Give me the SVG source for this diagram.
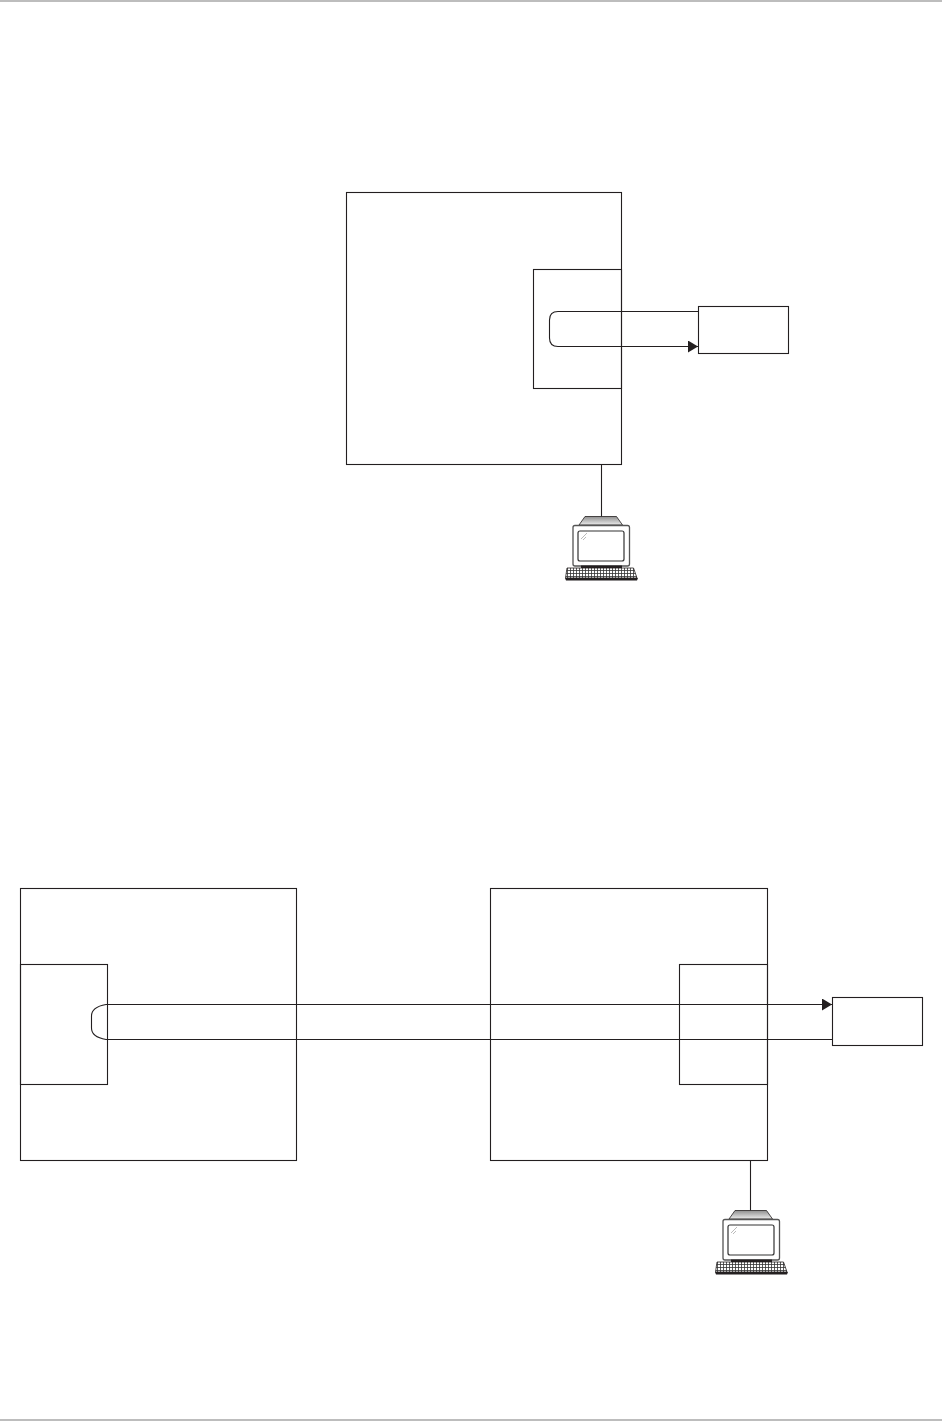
<svg xmlns="http://www.w3.org/2000/svg" width="942" height="1421" viewBox="0 0 942 1421">
<style>
.b{fill:none;stroke:#231f20;stroke-width:1.1}
.w{fill:#fff;stroke:#231f20;stroke-width:1.1}
.c{fill:none;stroke:#231f20;stroke-width:1.1}
.g{fill:#bdbdbd}
</style>
<defs>
<linearGradient id="hood" x1="0" y1="0" x2="0" y2="1"><stop offset="0" stop-color="#8f8f8f"/><stop offset="1" stop-color="#ececec"/></linearGradient>
<pattern id="keys" width="3" height="3" patternUnits="userSpaceOnUse"><rect width="3" height="3" fill="#fff"/><path d="M0 .5H3M.5 0V3" stroke="#333" stroke-width=".8" fill="none"/></pattern>
<marker id="arrow" markerUnits="userSpaceOnUse" markerWidth="11" markerHeight="12" refX="10" refY="6" orient="auto"><path d="M0 0L10 6L0 12Z" fill="#231f20"/></marker>
<symbol id="pc" overflow="visible">
<path d="M585 516.5H616.500L622.500 525H579Z" fill="url(#hood)" stroke="#231f20" stroke-width=".8"/>
<rect x="573" y="525.500" width="56.500" height="40.500" rx="2" fill="#fff" stroke="#555" stroke-width="1.300"/>
<rect x="578" y="531" width="46" height="30" rx="2" fill="#fff" stroke="#333" stroke-width="1.200"/>
<path d="M581 539L587 533M583 540L586 537" stroke="#aaa" stroke-width=".8" fill="none"/>
<rect x="581" y="565.500" width="41" height="2.500" fill="#231f20"/>
<path d="M567 568H633.500L637 578H565.500Z" fill="url(#keys)" stroke="#231f20" stroke-width=".8"/>
<path d="M565 578H638L637 580.500H566Z" fill="#231f20"/>
</symbol>
</defs>
<rect width="942" height="1421" fill="#fff"/>
<rect class="g" x="0" y="0" width="942" height="2"/>
<rect class="g" x="0" y="1419" width="942" height="2"/>
<g id="connectors">
<path class="c" d="M698 311.500H558Q549.500 311.500 549.500 320V338Q549.500 346.500 558 346.500H698" marker-end="url(#arrow)"/>
<path class="c" d="M601.500 464.500V516.500"/>
<path class="c" d="M832 1039.500H106Q91.500 1037 91.500 1028V1016Q91.500 1007 106 1004.500H832" marker-end="url(#arrow)"/>
<path class="c" d="M750.500 1160.500V1210.500"/>
</g>
<g id="host-a"><rect class="b" x="346.500" y="192.500" width="275" height="272"/></g>
<g id="port-a"><rect class="b" x="533.500" y="269.500" width="88" height="119"/></g>
<g id="device-a"><rect class="b" x="698.500" y="306.500" width="90" height="47"/></g>
<g id="terminal-a"><use href="#pc"/></g>
<g id="host-b"><rect class="b" x="20.500" y="888.500" width="276" height="272"/></g>
<g id="port-b"><rect class="b" x="20.500" y="964.500" width="87" height="120"/></g>
<g id="host-c"><rect class="b" x="490.500" y="888.500" width="277" height="272"/></g>
<g id="port-c"><rect class="b" x="679.500" y="964.500" width="88" height="120"/></g>
<g id="device-b"><rect class="b" x="832.500" y="997.500" width="90" height="48"/></g>
<g id="terminal-b"><use href="#pc" transform="translate(150 694)"/></g>
</svg>
